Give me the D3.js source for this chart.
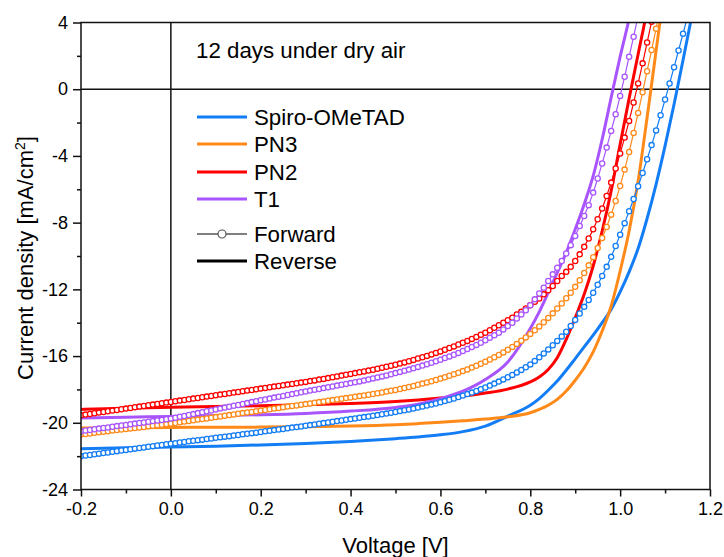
<!DOCTYPE html>
<html><head><meta charset="utf-8">
<script src="https://cdn.jsdelivr.net/npm/d3@7"></script>
<style>
body{margin:0;background:#fff}
svg{display:block}
text{font-family:"Liberation Sans",Arial,Helvetica,sans-serif;fill:#000}
</style>
</head><body>
<svg id="c" width="724" height="557"></svg>
<script>
// ---------- data ----------
const xTicks = [-0.2, 0, 0.2, 0.4, 0.6, 0.8, 1.0, 1.2];
const xMinor = [-0.1, 0.1, 0.3, 0.5, 0.7, 0.9, 1.1];
const yTicks = [4, 0, -4, -8, -12, -16, -20, -24];
const yMinor = [2, -2, -6, -10, -14, -18, -22];
const seriesNames = ["Spiro-OMeTAD", "PN3", "PN2", "T1"];
const seriesColors = ["#137df5", "#ff8a1a", "#ff0000", "#a855ff"];

// forward scans (circles), voltage grid shared
const fwdV = [-0.2,-0.19,-0.18,-0.17,-0.16,-0.15,-0.14,-0.13,-0.12,-0.11,
-0.1,-0.09,-0.08,-0.07,-0.06,-0.05,-0.04,-0.03,-0.02,-0.01,
0,0.01,0.02,0.03,0.04,0.05,0.06,0.07,0.08,0.09,
0.1,0.11,0.12,0.13,0.14,0.15,0.16,0.17,0.18,0.19,
0.2,0.21,0.22,0.23,0.24,0.25,0.26,0.27,0.28,0.29,
0.3,0.31,0.32,0.33,0.34,0.35,0.36,0.37,0.38,0.39,
0.4,0.41,0.42,0.43,0.44,0.45,0.46,0.47,0.48,0.49,
0.5,0.51,0.52,0.53,0.54,0.55,0.56,0.57,0.58,0.59,
0.6,0.61,0.62,0.63,0.64,0.65,0.66,0.67,0.68,0.69,
0.7,0.71,0.72,0.73,0.74,0.75,0.76,0.77,0.78,0.79,
0.8,0.81,0.82,0.83,0.84,0.85,0.86,0.87,0.88,0.89,
0.9,0.91,0.92,0.93,0.94,0.95,0.96,0.97,0.98,0.99,
1,1.01,1.02,1.03,1.04,1.05,1.06,1.07,1.08,1.09,
1.1,1.11,1.12,1.13,1.14,1.15];

const fwdSpiro = [-22.0,-21.96,-21.93,-21.89,-21.85,-21.81,-21.78,-21.74,-21.7,-21.66,
-21.63,-21.59,-21.55,-21.51,-21.48,-21.44,-21.4,-21.36,-21.33,-21.29,
-21.25,-21.22,-21.18,-21.15,-21.11,-21.08,-21.04,-21.01,-20.97,-20.94,
-20.9,-20.87,-20.83,-20.8,-20.76,-20.73,-20.69,-20.66,-20.62,-20.59,
-20.55,-20.51,-20.48,-20.44,-20.4,-20.37,-20.33,-20.29,-20.26,-20.22,
-20.18,-20.14,-20.1,-20.06,-20.02,-19.98,-19.94,-19.9,-19.86,-19.82,
-19.78,-19.74,-19.7,-19.66,-19.62,-19.58,-19.54,-19.49,-19.45,-19.4,
-19.35,-19.3,-19.25,-19.2,-19.15,-19.09,-19.03,-18.97,-18.91,-18.84,
-18.77,-18.7,-18.62,-18.54,-18.46,-18.37,-18.28,-18.19,-18.09,-17.99,
-17.88,-17.77,-17.65,-17.53,-17.4,-17.27,-17.13,-16.98,-16.83,-16.67,
-16.5,-16.29,-16.07,-15.84,-15.6,-15.35,-15.09,-14.82,-14.54,-14.2,
-13.83,-13.45,-13.05,-12.64,-12.2,-11.72,-11.2,-10.65,-10.05,-9.4,
-8.72,-8.03,-7.32,-6.58,-5.82,-5.02,-4.2,-3.35,-2.47,-1.56,
-0.62,0.34,1.32,2.32,3.33,4.35];

const fwdPN3 = [-20.7,-20.67,-20.64,-20.6,-20.57,-20.54,-20.51,-20.47,-20.44,-20.41,
-20.38,-20.34,-20.31,-20.28,-20.25,-20.21,-20.18,-20.15,-20.12,-20.08,
-20.05,-20.01,-19.97,-19.93,-19.89,-19.85,-19.81,-19.77,-19.74,-19.7,
-19.66,-19.62,-19.58,-19.54,-19.5,-19.46,-19.42,-19.38,-19.35,-19.31,
-19.27,-19.23,-19.19,-19.15,-19.11,-19.07,-19.03,-18.99,-18.96,-18.92,
-18.88,-18.84,-18.8,-18.76,-18.72,-18.68,-18.64,-18.6,-18.56,-18.52,
-18.48,-18.44,-18.4,-18.36,-18.32,-18.27,-18.23,-18.18,-18.13,-18.08,
-18.03,-17.97,-17.91,-17.85,-17.79,-17.72,-17.65,-17.58,-17.51,-17.43,
-17.35,-17.27,-17.18,-17.09,-17.0,-16.9,-16.8,-16.69,-16.58,-16.46,
-16.34,-16.21,-16.07,-15.93,-15.78,-15.62,-15.45,-15.27,-15.08,-14.88,
-14.67,-14.45,-14.22,-13.97,-13.71,-13.44,-13.15,-12.85,-12.53,-12.2,
-11.85,-11.45,-11.02,-10.56,-10.07,-9.52,-8.92,-8.26,-7.52,-6.7,
-5.8,-4.82,-3.76,-2.62,-1.42,-0.18,1.08,2.35,3.63,4.92];

const fwdPN2 = [-19.55,-19.51,-19.47,-19.43,-19.39,-19.35,-19.31,-19.27,-19.23,-19.19,
-19.15,-19.11,-19.07,-19.03,-18.99,-18.95,-18.91,-18.87,-18.83,-18.79,
-18.75,-18.71,-18.67,-18.63,-18.59,-18.55,-18.51,-18.47,-18.43,-18.39,
-18.35,-18.31,-18.27,-18.23,-18.19,-18.15,-18.11,-18.07,-18.03,-17.99,
-17.95,-17.91,-17.87,-17.83,-17.79,-17.75,-17.71,-17.67,-17.63,-17.59,
-17.55,-17.5,-17.46,-17.41,-17.37,-17.32,-17.27,-17.22,-17.17,-17.12,
-17.07,-17.02,-16.97,-16.92,-16.87,-16.82,-16.76,-16.7,-16.64,-16.58,
-16.52,-16.45,-16.38,-16.31,-16.23,-16.15,-16.07,-15.99,-15.9,-15.81,
-15.72,-15.62,-15.52,-15.42,-15.31,-15.2,-15.09,-14.97,-14.85,-14.72,
-14.6,-14.45,-14.3,-14.15,-14.0,-13.85,-13.7,-13.5,-13.35,-13.15,
-12.95,-12.75,-12.55,-12.3,-12.05,-11.8,-11.5,-11.2,-10.95,-10.65,
-10.3,-9.9,-9.45,-8.95,-8.4,-7.8,-7.15,-6.4,-5.6,-4.75,
-3.85,-2.9,-1.9,-0.8,0.35,1.55,2.8,4.05,5.3];

const fwdT1 = [-20.5,-20.46,-20.43,-20.39,-20.35,-20.31,-20.28,-20.24,-20.2,-20.16,
-20.13,-20.09,-20.05,-20.01,-19.98,-19.94,-19.9,-19.86,-19.83,-19.79,
-19.75,-19.7,-19.64,-19.59,-19.53,-19.48,-19.42,-19.37,-19.31,-19.26,
-19.2,-19.15,-19.09,-19.04,-18.98,-18.93,-18.87,-18.82,-18.76,-18.71,
-18.65,-18.6,-18.55,-18.49,-18.44,-18.39,-18.33,-18.28,-18.23,-18.17,
-18.12,-18.07,-18.02,-17.97,-17.92,-17.87,-17.82,-17.77,-17.72,-17.67,
-17.62,-17.57,-17.52,-17.46,-17.4,-17.34,-17.28,-17.22,-17.16,-17.09,
-17.02,-16.95,-16.88,-16.81,-16.73,-16.65,-16.57,-16.49,-16.4,-16.31,
-16.22,-16.12,-16.02,-15.92,-15.81,-15.7,-15.58,-15.46,-15.33,-15.2,
-15.05,-14.9,-14.75,-14.6,-14.4,-14.2,-14.0,-13.75,-13.5,-13.25,
-12.95,-12.6,-12.25,-11.9,-11.5,-11.1,-10.7,-10.3,-9.85,-9.35,
-8.8,-8.2,-7.6,-6.95,-6.2,-5.35,-4.45,-3.5,-2.5,-1.5,
-0.4,0.75,1.95,3.15,4.4];

// reverse scans (solid lines), voltage grid shared
const revV = [-0.2,-0.1,0,0.1,0.2,0.3,0.4,0.5,0.55,0.6,0.65,0.7,0.75,0.8,0.82,0.84,0.86,0.88,0.9,0.92,0.94,0.96,0.98,1.0,1.02,1.04,1.06,1.08,1.1,1.12,1.14,1.16,1.18];
const revSpiro = [-21.55,-21.5,-21.45,-21.4,-21.33,-21.24,-21.12,-20.95,-20.85,-20.72,-20.53,-20.2,-19.6,-18.95,-18.55,-18.05,-17.5,-16.85,-16.15,-15.45,-14.75,-14.0,-13.2,-12.15,-10.95,-9.55,-7.75,-5.7,-3.4,-0.9,1.75,4.45,7.2];
const revPN3 = [-20.32,-20.3,-20.28,-20.27,-20.26,-20.24,-20.2,-20.12,-20.05,-19.97,-19.88,-19.78,-19.64,-19.4,-19.2,-18.95,-18.6,-18.1,-17.45,-16.7,-15.75,-14.5,-13.0,-10.9,-8.5,-5.5,-1.7,2.3,6.3,10.3,14,18,22];
const revPN2 = [-19.2,-19.13,-19.07,-19.03,-18.98,-18.92,-18.84,-18.72,-18.63,-18.52,-18.4,-18.22,-17.98,-17.55,-17.25,-16.8,-16.1,-15.0,-13.7,-12.3,-10.6,-8.5,-6.1,-3.3,-0.55,2.1,4.7,7.3,9.9,12.5,15,17.5,20];
const revT1 = [-19.72,-19.67,-19.62,-19.57,-19.52,-19.44,-19.3,-19.08,-18.88,-18.55,-18.1,-17.4,-16.35,-14.35,-13.35,-12.2,-11.0,-9.8,-8.4,-6.9,-5.2,-3.0,-0.5,1.95,4.2,6.5,8.8,11,13,15,17,19,21];

const fwdSeries = [fwdSpiro, fwdPN3, fwdPN2, fwdT1];
const revSeries = [revSpiro, revPN3, revPN2, revT1];

// ---------- chart ----------
const svg = d3.select("#c");
const L = 81, R = 710, T = 22.5, B = 489.5;
const x = d3.scaleLinear().domain([-0.2, 1.2]).range([L, R]);
const y = d3.scaleLinear().domain([-24, 4]).range([B, T]);

svg.append("defs").append("clipPath").attr("id", "plotclip")
  .append("rect").attr("x", L).attr("y", T).attr("width", R - L).attr("height", B - T);

// zero lines
svg.append("line").attr("x1", x(0)).attr("x2", x(0)).attr("y1", T).attr("y2", B)
  .attr("stroke", "#111").attr("stroke-width", 1.5);
svg.append("line").attr("x1", L).attr("x2", R).attr("y1", y(0)).attr("y2", y(0))
  .attr("stroke", "#111").attr("stroke-width", 1.5);

// axes
const gx = svg.append("g").attr("transform", `translate(0,${B})`)
  .call(d3.axisBottom(x).tickValues(xTicks).tickSize(7).tickPadding(6).tickFormat(d => d.toFixed(1)));
const gxm = svg.append("g").attr("transform", `translate(0,${B})`)
  .call(d3.axisBottom(x).tickValues(xMinor).tickSize(4).tickFormat(""));
const gy = svg.append("g").attr("transform", `translate(${L},0)`)
  .call(d3.axisLeft(y).tickValues(yTicks).tickSize(8).tickPadding(5).tickFormat(d => String(d)));
const gym = svg.append("g").attr("transform", `translate(${L},0)`)
  .call(d3.axisLeft(y).tickValues(yMinor).tickSize(4).tickFormat(""));
[gx, gxm, gy, gym].forEach(g => {
  g.select(".domain").remove();
  g.selectAll(".tick line").attr("stroke", "#111").attr("stroke-width", 1.5);
  g.selectAll(".tick text").style("font-size", "18px").attr("fill", "#000")
    .style("font-family", '"Liberation Sans", Arial, sans-serif');
});

// data
const plot = svg.append("g").attr("clip-path", "url(#plotclip)");
const lineLin = d3.line().x(d => x(d[0])).y(d => y(d[1]));
const lineSmooth = d3.line().x(d => x(d[0])).y(d => y(d[1])).curve(d3.curveMonotoneX);

seriesNames.forEach((name, i) => {
  const pts = revSeries[i].map((v, k) => [revV[k], v]);
  plot.append("path").datum(pts).attr("d", lineSmooth)
    .attr("fill", "none").attr("stroke", seriesColors[i]).attr("stroke-width", 3);
});
seriesNames.forEach((name, i) => {
  const pts = fwdSeries[i].map((v, k) => [fwdV[k], v]);
  plot.append("path").datum(pts).attr("d", lineLin)
    .attr("fill", "none").attr("stroke", seriesColors[i]).attr("stroke-width", 1.2);
  plot.append("g").selectAll("circle").data(pts).join("circle")
    .attr("cx", d => x(d[0])).attr("cy", d => y(d[1])).attr("r", 2.6)
    .attr("fill", "#fff").attr("stroke", seriesColors[i]).attr("stroke-width", 1.3);
});

// frame
svg.append("rect").attr("x", L).attr("y", T).attr("width", R - L).attr("height", B - T)
  .attr("fill", "none").attr("stroke", "#111").attr("stroke-width", 1.5);

// axis titles
svg.append("text").attr("x", (L + R) / 2).attr("y", 553).attr("text-anchor", "middle")
  .style("font-size", "22px").text("Voltage [V]");
const yt = svg.append("text").attr("transform", "translate(33,258) rotate(-90)")
  .attr("text-anchor", "middle").style("font-size", "22px");
yt.append("tspan").text("Current density [mA/cm");
yt.append("tspan").attr("dy", -8).style("font-size", "14px").text("2");
yt.append("tspan").attr("dy", 8).text("]");

// title
svg.append("text").attr("x", 196).attr("y", 58).style("font-size", "22.3px").text("12 days under dry air");

// legend
const legRows = [117, 144, 172, 199];
seriesNames.forEach((name, i) => {
  svg.append("line").attr("x1", 197).attr("x2", 247).attr("y1", legRows[i]).attr("y2", legRows[i])
    .attr("stroke", seriesColors[i]).attr("stroke-width", 3);
  svg.append("text").attr("x", 254).attr("y", legRows[i] + 8).style("font-size", "22.3px").text(name);
});
svg.append("line").attr("x1", 197).attr("x2", 247).attr("y1", 234).attr("y2", 234)
  .attr("stroke", "#000").attr("stroke-width", 1.2);
svg.append("circle").attr("cx", 222).attr("cy", 234).attr("r", 4)
  .attr("fill", "#fff").attr("stroke", "#555").attr("stroke-width", 1.2);
svg.append("text").attr("x", 254).attr("y", 242).style("font-size", "22.3px").text("Forward");
svg.append("line").attr("x1", 197).attr("x2", 247).attr("y1", 261).attr("y2", 261)
  .attr("stroke", "#000").attr("stroke-width", 3);
svg.append("text").attr("x", 254).attr("y", 269).style("font-size", "22.3px").text("Reverse");
</script>
</body></html>
